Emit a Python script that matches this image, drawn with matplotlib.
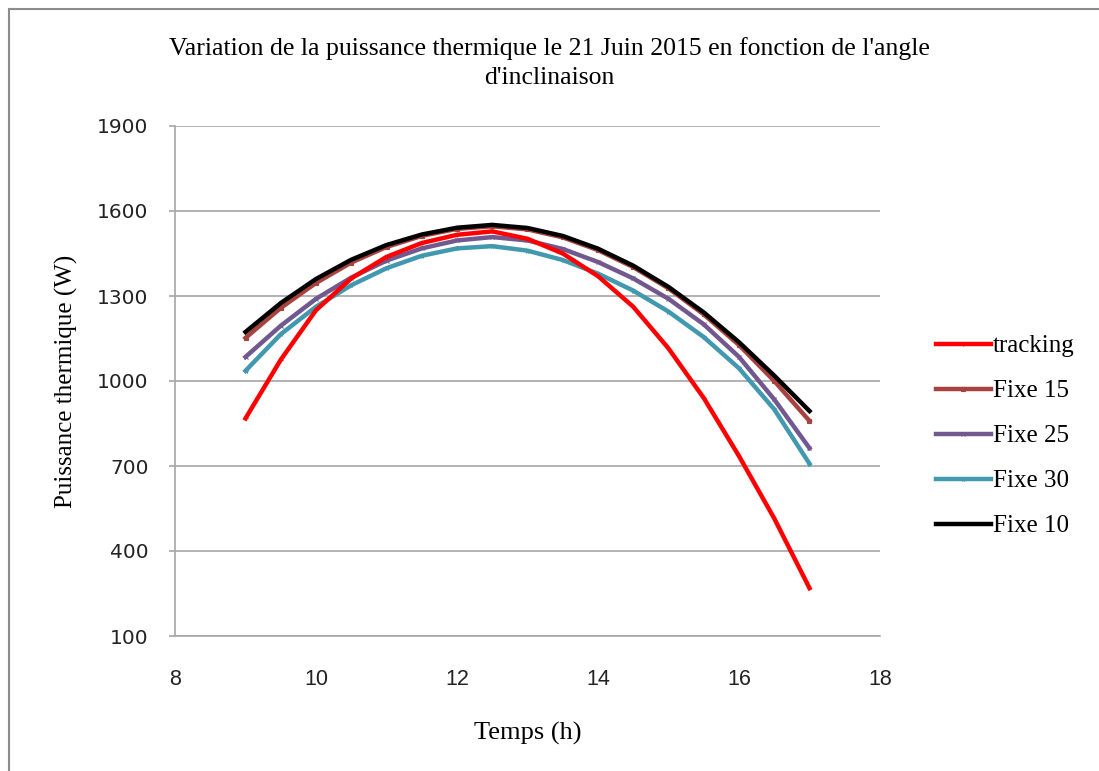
import matplotlib.pyplot as plt
from matplotlib.lines import Line2D

# Data (half-hour steps)
temps = [9, 9.5, 10, 10.5, 11, 11.5, 12, 12.5, 13, 13.5, 14, 14.5, 15, 15.5, 16, 16.5, 17]

tracking = [868, 1075, 1250, 1362, 1438, 1487, 1516, 1528, 1502, 1450, 1370, 1262, 1115, 940, 735, 515, 269]
fixe15 = [1152, 1258, 1346, 1418, 1473, 1512, 1537, 1546, 1535, 1507, 1462, 1402, 1327, 1235, 1127, 1000, 859]
fixe25 = [1085, 1195, 1290, 1365, 1425, 1468, 1496, 1508, 1496, 1466, 1420, 1362, 1290, 1200, 1085, 935, 763]
fixe30 = [1036, 1165, 1262, 1338, 1398, 1442, 1468, 1476, 1460, 1427, 1379, 1319, 1245, 1155, 1045, 900, 708]
fixe10 = [1173, 1275, 1360, 1428, 1480, 1517, 1541, 1551, 1540, 1512, 1467, 1407, 1332, 1242, 1137, 1019, 894]

labels = ["tracking", "Fixe 15", "Fixe 25", "Fixe 30", "Fixe 10"]
colors = ["#FF0000", "#A8423F", "#71588F", "#4198AF", "#000000"]
markers = ["+", "s", "x", "*", None]

yticks = [100, 400, 700, 1000, 1300, 1600, 1900]
xticks = [8, 10, 12, 14, 16, 18]

SERIF = ["Liberation Serif", "DejaVu Serif"]
GRID = "#A6A6A6"

fig = plt.figure(figsize=(10.99, 7.71), dpi=100)
ax = fig.add_axes([175 / 1099, 1 - 636 / 771, 705 / 1099, 510 / 771])

series = [tracking, fixe15, fixe25, fixe30, fixe10]
zorders = [4, 3, 3, 3, 5]
for vals, lab, col, mk, z in zip(series, labels, colors, markers, zorders):
    ax.plot(temps, vals, color=col, lw=3.2, marker=mk, markersize=3,
            markeredgewidth=0.8, label=lab, zorder=z)

ax.set_xlim(8, 18)
ax.set_ylim(100, 1900)
ax.set_xticks(xticks)
ax.set_yticks(yticks)
ax.yaxis.grid(True, color=GRID, lw=1.2)
ax.set_axisbelow(True)

for side in ["top", "right"]:
    ax.spines[side].set_visible(False)
for side in ["left", "bottom"]:
    ax.spines[side].set_color(GRID)
    ax.spines[side].set_linewidth(1.2)

ax.tick_params(axis="y", length=4, color=GRID, width=1.2, pad=15)
ax.tick_params(axis="x", length=0, pad=24)
for t in ax.get_yticklabels():
    t.set_fontfamily("DejaVu Sans")
    t.set_fontsize(14.5)
    t.set_color("#222222")
for t in ax.get_xticklabels():
    t.set_fontfamily(["Liberation Sans Narrow", "Liberation Sans"])
    t.set_fontsize(15.5)
    t.set_color("#222222")

ax.set_xlabel("Temps (h)", family=SERIF, fontsize=19, labelpad=23)
ax.set_ylabel("Puissance thermique (W)", family=SERIF, fontsize=18, labelpad=14)

fig.text(0.5, 1 - 63 / 771,
         "Variation de la puissance thermique le 21 Juin 2015 en fonction de l'angle\nd'inclinaison",
         ha="center", va="center", family=SERIF, fontsize=18.5, linespacing=1.4)

leg = ax.legend(loc="center left", bbox_to_anchor=(923 / 1099, 1 - 436 / 771),
                bbox_transform=fig.transFigure, frameon=False,
                prop={"family": SERIF, "size": 18}, handlelength=2.2,
                handletextpad=0.1, labelspacing=0.9, borderpad=0, markerscale=1)

# outer chart border (left and top only visible)
fig.add_artist(Line2D([9 / 1099, 9 / 1099], [0, 1 - 9 / 771], transform=fig.transFigure, color="#8C8C8C", lw=1.5))
fig.add_artist(Line2D([9 / 1099, 1], [1 - 9 / 771, 1 - 9 / 771], transform=fig.transFigure, color="#8C8C8C", lw=1.5))

fig.savefig("out.png", dpi=100)
